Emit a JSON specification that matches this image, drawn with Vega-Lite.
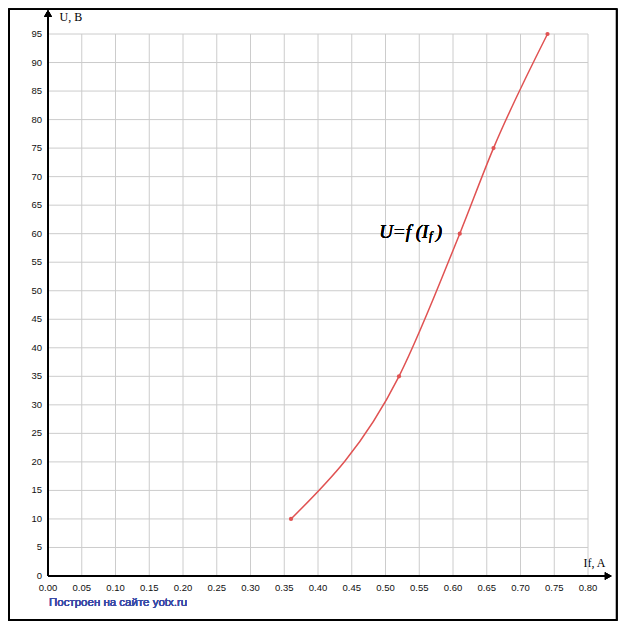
{
  "$schema": "https://vega.github.io/schema/vega-lite/v6.json",
  "width": 540,
  "height": 542,
  "autosize": {"type": "none"},
  "padding": {"left": 48, "top": 34, "right": 39, "bottom": 54},
  "background": "white",
  "config": {
    "view": {"stroke": null},
    "font": "Liberation Sans",
    "axis": {
      "grid": false,
      "domain": false,
      "ticks": false,
      "labels": false,
      "titleFont": "Liberation Serif",
      "titleFontSize": 12,
      "titleFontWeight": "normal",
      "titleColor": "#000000"
    }
  },
  "datasets": {
    "pts": [
      {"If": 0.36, "U": 10},
      {"If": 0.52, "U": 35},
      {"If": 0.61, "U": 60},
      {"If": 0.66, "U": 75},
      {"If": 0.74, "U": 95}
    ],
    "xt": [
      {"v": 0, "t": "0.00"}, {"v": 0.05, "t": "0.05"}, {"v": 0.1, "t": "0.10"}, {"v": 0.15, "t": "0.15"},
      {"v": 0.2, "t": "0.20"}, {"v": 0.25, "t": "0.25"}, {"v": 0.3, "t": "0.30"}, {"v": 0.35, "t": "0.35"},
      {"v": 0.4, "t": "0.40"}, {"v": 0.45, "t": "0.45"}, {"v": 0.5, "t": "0.50"}, {"v": 0.55, "t": "0.55"},
      {"v": 0.6, "t": "0.60"}, {"v": 0.65, "t": "0.65"}, {"v": 0.7, "t": "0.70"}, {"v": 0.75, "t": "0.75"},
      {"v": 0.8, "t": "0.80"}
    ],
    "yt": [
      {"v": 0, "t": "0"}, {"v": 5, "t": "5"}, {"v": 10, "t": "10"}, {"v": 15, "t": "15"}, {"v": 20, "t": "20"},
      {"v": 25, "t": "25"}, {"v": 30, "t": "30"}, {"v": 35, "t": "35"}, {"v": 40, "t": "40"}, {"v": 45, "t": "45"},
      {"v": 50, "t": "50"}, {"v": 55, "t": "55"}, {"v": 60, "t": "60"}, {"v": 65, "t": "65"}, {"v": 70, "t": "70"},
      {"v": 75, "t": "75"}, {"v": 80, "t": "80"}, {"v": 85, "t": "85"}, {"v": 90, "t": "90"}, {"v": 95, "t": "95"}
    ]
  },
  "data": {"name": "pts"},
  "encoding": {
    "x": {
      "type": "quantitative",
      "scale": {"domain": [0, 0.8], "nice": false, "zero": false},
      "axis": {
        "title": "If, A",
        "titleAnchor": "start",
        "titleAlign": "left",
        "titleBaseline": "middle",
        "titleX": 535,
        "titleY": -14
      }
    },
    "y": {
      "type": "quantitative",
      "scale": {"domain": [0, 95], "nice": false, "zero": false},
      "axis": {
        "title": "U, B",
        "titleAngle": 0,
        "titleAlign": "left",
        "titleBaseline": "middle",
        "titleX": 11,
        "titleY": -18
      }
    }
  },
  "layer": [
    {
      "data": {"name": "xt"},
      "mark": {"type": "rule", "color": "#cccccc", "strokeWidth": 1},
      "encoding": {
        "x": {"field": "v"},
        "y": {"datum": 0},
        "y2": {"datum": 95}
      }
    },
    {
      "data": {"name": "yt"},
      "mark": {"type": "rule", "color": "#cccccc", "strokeWidth": 1},
      "encoding": {
        "y": {"field": "v"},
        "x": {"datum": 0},
        "x2": {"datum": 0.8}
      }
    },
    {
      "data": {"name": "xt"},
      "mark": {"type": "text", "font": "Liberation Sans", "fontSize": 9.5, "fill": "#111111", "align": "center", "baseline": "middle", "dy": 12, "clip": false},
      "encoding": {
        "x": {"field": "v"},
        "y": {"datum": 0},
        "text": {"field": "t"}
      }
    },
    {
      "data": {"name": "yt"},
      "mark": {"type": "text", "font": "Liberation Sans", "fontSize": 9.5, "fill": "#111111", "align": "right", "baseline": "middle", "dx": -6, "clip": false},
      "encoding": {
        "y": {"field": "v"},
        "x": {"datum": 0},
        "text": {"field": "t"}
      }
    },
    {
      "mark": {"type": "line", "color": "#e05252", "strokeWidth": 1.5, "interpolate": "monotone"},
      "encoding": {
        "x": {"field": "If"},
        "y": {"field": "U"}
      }
    },
    {
      "mark": {"type": "rect", "fill": null, "stroke": "#000000", "strokeWidth": 1.5, "clip": false},
      "encoding": {
        "x": {"datum": -0.0578},
        "x2": {"datum": 0.8425},
        "y": {"datum": 99.35},
        "y2": {"datum": -7.7}
      }
    },
    {
      "mark": {"type": "point", "filled": true, "color": "#e05252", "size": 18, "opacity": 1},
      "encoding": {
        "x": {"field": "If"},
        "y": {"field": "U"}
      }
    },
    {
      "mark": {"type": "rule", "color": "#000000", "strokeWidth": 2, "clip": false},
      "encoding": {
        "x": {"datum": 0},
        "x2": {"datum": 0.83},
        "y": {"datum": 0}
      }
    },
    {
      "mark": {"type": "rule", "color": "#000000", "strokeWidth": 2, "clip": false},
      "encoding": {
        "x": {"datum": 0},
        "y": {"datum": 0},
        "y2": {"datum": 98.6}
      }
    },
    {
      "mark": {"type": "point", "shape": "triangle-right", "filled": true, "color": "#000000", "size": 60, "opacity": 1, "clip": false},
      "encoding": {
        "x": {"datum": 0.83},
        "y": {"datum": 0}
      }
    },
    {
      "mark": {"type": "point", "shape": "triangle-up", "filled": true, "color": "#000000", "size": 60, "opacity": 1, "clip": false},
      "encoding": {
        "x": {"datum": 0},
        "y": {"datum": 98.6}
      }
    },
    {
      "mark": {"type": "text", "font": "Liberation Serif", "fontStyle": "italic", "fontWeight": "normal", "fontSize": 19, "align": "right", "baseline": "middle", "fill": "#000000", "text": "U=f (I"},
      "encoding": {
        "x": {"datum": 0.5635},
        "y": {"datum": 60.3}
      }
    },
    {
      "mark": {"type": "text", "font": "Liberation Serif", "fontStyle": "italic", "fontWeight": "normal", "fontSize": 12, "align": "left", "baseline": "middle", "fill": "#000000", "text": "f"},
      "encoding": {
        "x": {"datum": 0.5645},
        "y": {"datum": 59.6}
      }
    },
    {
      "mark": {"type": "text", "font": "Liberation Serif", "fontStyle": "italic", "fontWeight": "normal", "fontSize": 19, "align": "left", "baseline": "middle", "fill": "#000000", "text": ")"},
      "encoding": {
        "x": {"datum": 0.5745},
        "y": {"datum": 60.3}
      }
    },
    {
      "mark": {"type": "text", "font": "Liberation Sans", "fontWeight": "normal", "fontSize": 11.5, "align": "left", "baseline": "middle", "fill": "#3a4aa6", "text": "Построен на сайте yotx.ru", "clip": false},
      "encoding": {
        "x": {"datum": 0.0015},
        "y": {"datum": -4.7}
      }
    }
  ]
}
